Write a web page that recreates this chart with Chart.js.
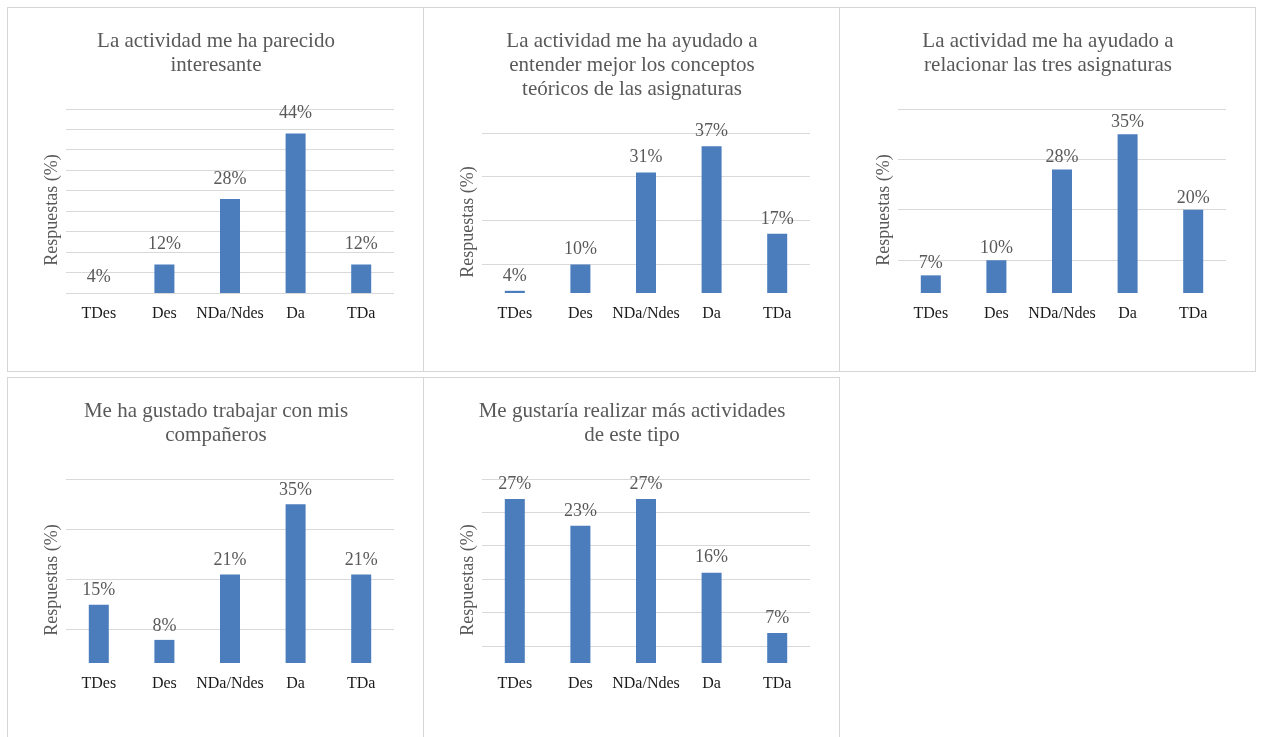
<!DOCTYPE html>
<html lang="es">
<head>
<meta charset="utf-8">
<title>Valoración de la actividad</title>
<script src="https://cdn.jsdelivr.net/npm/chart.js@4.4.1/dist/chart.umd.min.js"></script>
<style>
  html, body { margin: 0; padding: 0; background: #fff; }
  body { width: 1261px; height: 737px; position: relative; overflow: hidden; }
  .panel { position: absolute; width: 417px; height: 365px; box-sizing: border-box; border: 1px solid #d6d6d6; background: #fff; }
  .panel canvas { display: block; }
</style>
</head>
<body>
<div class="panel" style="left:7px;top:7px"><canvas id="c1" width="415" height="363"></canvas></div>
<div class="panel" style="left:423px;top:7px"><canvas id="c2" width="415" height="363"></canvas></div>
<div class="panel" style="left:839px;top:7px"><canvas id="c3" width="415" height="363"></canvas></div>
<div class="panel" style="left:7px;top:377px"><canvas id="c4" width="415" height="363"></canvas></div>
<div class="panel" style="left:423px;top:377px"><canvas id="c5" width="415" height="363"></canvas></div>
<script>
// datos
const categorias = ['TDes', 'Des', 'NDa/Ndes', 'Da', 'TDa'];

const interesante = [4, 12, 28, 44, 12];
const conceptos = [4, 10, 31, 37, 17];
const relacionar = [7, 10, 28, 35, 20];
const companeros = [15, 8, 21, 35, 21];
const masActividades = [27, 23, 27, 16, 7];

const tituloInteresante = ['La actividad me ha parecido', 'interesante'];
const tituloConceptos = ['La actividad me ha ayudado a', 'entender mejor los conceptos', 'teóricos de las asignaturas'];
const tituloRelacionar = ['La actividad me ha ayudado a', 'relacionar las tres asignaturas'];
const tituloCompaneros = ['Me ha gustado trabajar con mis', 'compañeros'];
const tituloMasActividades = ['Me gustaría realizar más actividades', 'de este tipo'];

const tituloEjeY = 'Respuestas (%)';

const azul = '#4b7dbd';
const gris = '#595959';
const serif = "'Liberation Serif', 'Times New Roman', serif";

const etiquetasPlugin = {
    id: 'etiquetas',
    afterDatasetsDraw(chart, args, opts) {
        const ctx = chart.ctx;
        const meta = chart.getDatasetMeta(0);
        const valores = chart.data.datasets[0].data;
        ctx.save();
        ctx.font = `18px ${serif}`;
        ctx.fillStyle = gris;
        ctx.textAlign = 'center';
        ctx.textBaseline = 'middle';
        meta.data.forEach((bar, i) => {
            const y = Math.min(bar.y, bar.base) - opts.offset;
            ctx.fillText(`${valores[i]}%`, bar.x, y);
        });
        ctx.restore();
    }
};

const ejeYPlugin = {
    id: 'ejeY',
    afterDraw(chart) {
        const { ctx, chartArea } = chart;
        ctx.save();
        ctx.translate(44, (chartArea.top + chartArea.bottom) / 2 + 9);
        ctx.rotate(-Math.PI / 2);
        ctx.font = `18px ${serif}`;
        ctx.fillStyle = gris;
        ctx.textAlign = 'center';
        ctx.textBaseline = 'middle';
        ctx.fillText(tituloEjeY, 0, 0);
        ctx.restore();
    }
};

const createChart = (id, titulo, valores, escala, offset) => {
    const lineas = [];
    for (let v = Math.ceil(escala.min / escala.step) * escala.step; v <= escala.max + 0.001; v += escala.step) {
        lineas.push(v);
    }

    new Chart(document.getElementById(id), {
        type: 'bar',
        data: {
            labels: categorias,
            datasets: [{
                data: valores,
                backgroundColor: azul,
                barPercentage: 0.305,
                categoryPercentage: 1,
                clip: 0
            }]
        },
        options: {
            responsive: false,
            animation: false,
            layout: { padding: { left: 30, right: 29, top: 0, bottom: 38 } },
            plugins: {
                legend: { display: false },
                tooltip: { enabled: false },
                title: {
                    display: true,
                    text: titulo,
                    color: gris,
                    font: { family: serif, size: 21, weight: 'normal', lineHeight: 24 / 21 },
                    padding: { top: 21, bottom: 32 }
                },
                etiquetas: { offset }
            },
            scales: {
                x: {
                    grid: { display: false, drawTicks: false },
                    border: { display: false },
                    ticks: {
                        color: '#1a1a1a',
                        font: { family: serif, size: 16 },
                        padding: 11,
                        maxRotation: 0,
                        autoSkip: false
                    },
                    afterFit: (scale) => { scale.height = 40; }
                },
                y: {
                    min: escala.min,
                    max: escala.max,
                    grid: { color: '#d9d9d9', lineWidth: 1, drawTicks: false },
                    border: { display: false },
                    ticks: { display: false },
                    afterBuildTicks: (scale) => { scale.ticks = lineas.map(v => ({ value: v })); },
                    afterFit: (scale) => { scale.width = 28; }
                }
            }
        },
        plugins: [etiquetasPlugin, ejeYPlugin]
    });
};

createChart('c1', tituloInteresante, interesante, { min: 5, max: 50, step: 5 }, 20);
createChart('c2', tituloConceptos, conceptos, { min: 3.5, max: 40, step: 10 }, 15);
createChart('c3', tituloRelacionar, relacionar, { min: 3.5, max: 40, step: 10 }, 12);
createChart('c4', tituloCompaneros, companeros, { min: 3.4, max: 40, step: 10 }, 14);
createChart('c5', tituloMasActividades, masActividades, { min: 2.5, max: 30, step: 5 }, 15);
</script>
</body>
</html>
